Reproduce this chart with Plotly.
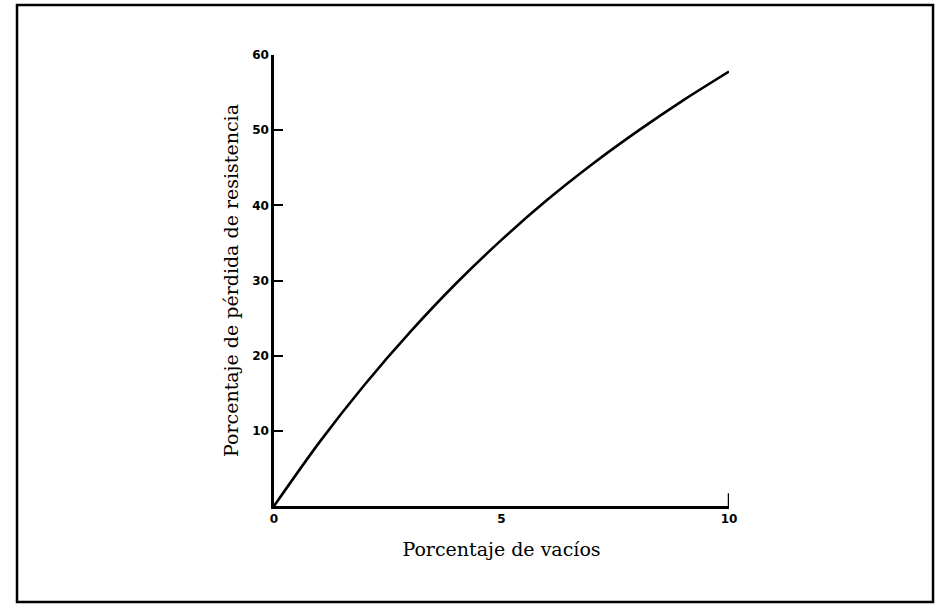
import plotly.graph_objects as go

# Void content (%) vs. strength loss (%)
voids_pct = [0, 1, 2, 3, 4, 5, 6, 7, 8, 9, 10]
strength_loss_pct = [0, 8.5, 16.2, 23.2, 29.6, 35.4, 40.7, 45.5, 49.9, 54.0, 57.8]

x_ticks = [0, 5, 10]
y_ticks = [10, 20, 30, 40, 50, 60]

fig = go.Figure()
fig.add_trace(go.Scatter(
    x=voids_pct, y=strength_loss_pct, mode="lines",
    line=dict(color="black", width=2.6, shape="spline", smoothing=0.8),
    hoverinfo="skip", showlegend=False,
))

tick_font = dict(family="DejaVu Sans", size=12, color="black", weight="bold")
title_font = dict(family="DejaVu Serif", size=19, color="black")

fig.update_xaxes(
    range=[0, 10], tickvals=x_ticks, ticktext=[str(v) for v in x_ticks],
    showline=True, linecolor="black", linewidth=2.5,
    ticks="", showgrid=False, zeroline=False, tickfont=tick_font,
    title=dict(text="Porcentaje de vacíos", font=title_font, standoff=18),
)
fig.update_yaxes(
    range=[0, 60], tickvals=y_ticks, ticktext=[str(v) for v in y_ticks],
    showline=True, linecolor="black", linewidth=2.5,
    ticks="inside", ticklen=9, tickwidth=2, tickcolor="black",
    showgrid=False, zeroline=False, tickfont=tick_font,
    title=dict(text="Porcentaje de pérdida de resistencia", font=title_font, standoff=9),
)

# Upward end tick at the last x value
fig.add_shape(type="line", xref="x", yref="paper",
              x0=x_ticks[-1], x1=x_ticks[-1], y0=0, y1=0.028,
              line=dict(color="black", width=2.5))

# Frame around the whole figure
fig.add_shape(type="rect", xref="paper", yref="paper",
              x0=-0.5648, x1=1.4484, y0=-0.2129, y1=1.1109,
              line=dict(color="black", width=2.5))

fig.update_layout(
    width=942, height=606,
    margin=dict(l=274, r=213, t=55, b=100),
    paper_bgcolor="white", plot_bgcolor="white",
)

fig.write_html("out.html")
